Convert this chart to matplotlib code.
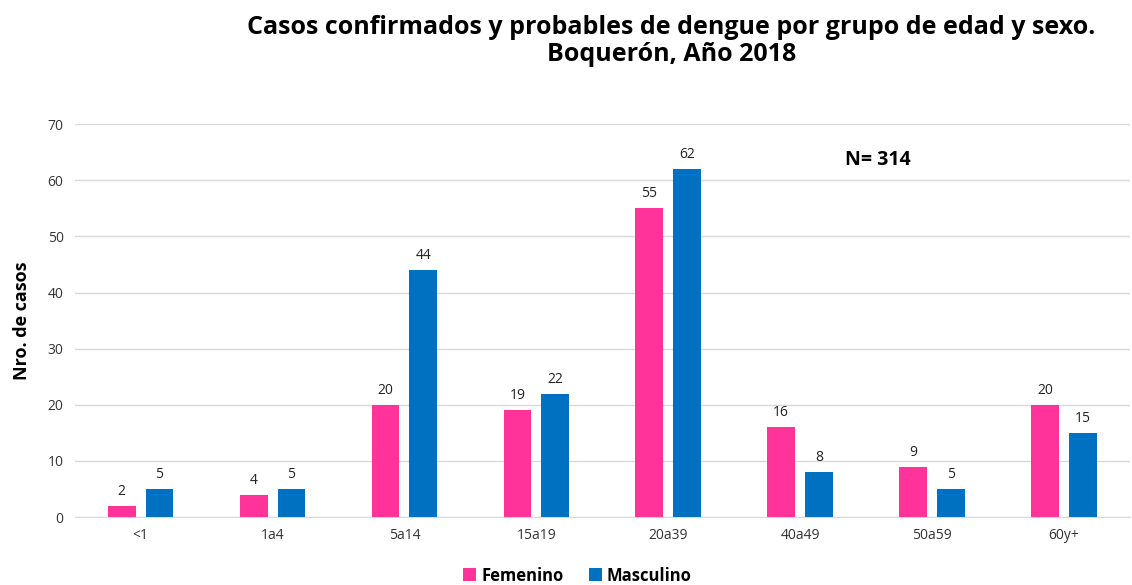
import numpy as np
import matplotlib.pyplot as plt

# Datos
grupos = ['<1', '1a4', '5a14', '15a19', '20a39', '40a49', '50a59', '60y+']
femenino = [2, 4, 20, 19, 55, 16, 9, 20]
masculino = [5, 5, 44, 22, 62, 8, 5, 15]

plt.rcParams['font.family'] = ['Open Sans', 'DejaVu Sans']

fig = plt.figure(figsize=(11.32, 5.85), dpi=100)
ax = fig.add_axes([0.066, 0.116, 0.932, 0.672])

x = np.arange(len(grupos))
w = 0.21
off = 0.143
b1 = ax.bar(x - off, femenino, w, color='#FF3399', label='Femenino', zorder=3)
b2 = ax.bar(x + off, masculino, w, color='#0070C0', label='Masculino', zorder=3)

for bars in (b1, b2):
    for b in bars:
        ax.annotate(str(int(b.get_height())), (b.get_x() + b.get_width() / 2, b.get_height()),
                    xytext=(0, 5), textcoords='offset points', ha='center', va='bottom',
                    fontsize=10, color='#222222')

ax.set_xlim(-0.5, len(grupos) - 0.5)
ax.set_ylim(0, 70)
ax.set_yticks(range(0, 71, 10))
ax.set_xticks(x)
ax.set_xticklabels(grupos)
ax.tick_params(axis='both', length=0, labelsize=10, colors='#333333', pad=8)
ax.yaxis.grid(True, color='#D9D9D9', linewidth=1, zorder=0)
for s in ['top', 'right', 'left']:
    ax.spines[s].set_visible(False)
ax.spines['bottom'].set_color('#D9D9D9')
ax.set_ylabel('Nro. de casos', fontsize=13, fontweight='bold', labelpad=12)

ax.text(0.73, 0.908, 'N= 314', transform=ax.transAxes, fontsize=14, fontweight='bold', va='center')

fig.text(0.593, 0.93, 'Casos confirmados y probables de dengue por grupo de edad y sexo.\nBoquerón, Año 2018',
         ha='center', va='center', fontsize=18, fontweight='bold', linespacing=1.15)

fig.legend(loc='lower center', bbox_to_anchor=(0.51, -0.025), ncol=2, frameon=False,
           prop={'weight': 'bold', 'size': 12}, handlelength=0.8, handleheight=0.8,
           handletextpad=0.3, columnspacing=1.5)

fig.savefig('out.png', dpi=100)
